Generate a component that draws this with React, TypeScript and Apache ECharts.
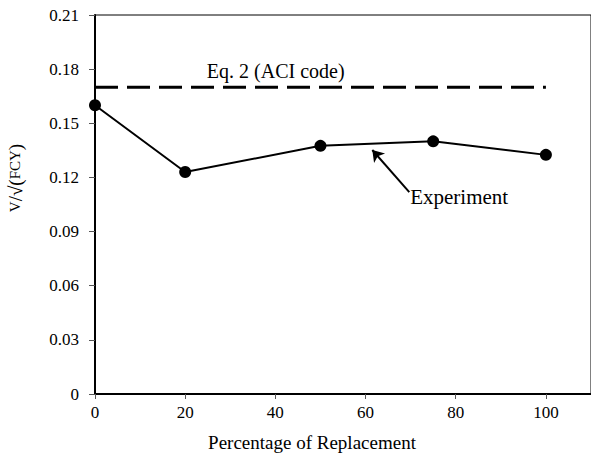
import React, { useEffect, useRef } from "react";
import * as echarts from "echarts";

const replacement = [0, 20, 50, 75, 100];
const experiment = [0.16, 0.123, 0.1375, 0.14, 0.1325];
const aciX = [0, 100];
const aciValue = 0.17;
const yTicks = [0, 0.03, 0.06, 0.09, 0.12, 0.15, 0.18, 0.21];
const xTicks = [0, 20, 40, 60, 80, 100];

const FONT = "Liberation Serif";

export default function App() {
  const ref = useRef<HTMLDivElement>(null);
  useEffect(() => {
    if (!ref.current) return;
    const chart = echarts.init(ref.current, undefined, { renderer: "svg" });
    const option: any = {
      animation: false,
      backgroundColor: "#fff",
      textStyle: { fontFamily: FONT, color: "#000" },
      grid: {
        left: 95,
        top: 15,
        bottom: 68,
        right: -4.5,
        show: true,
        borderColor: "#000",
        borderWidth: 1,
      },
      xAxis: {
        type: "value",
        min: 0,
        max: 110,
        interval: 20,
        splitLine: { show: false },
        axisLine: { lineStyle: { color: "#000", width: 2 } },
        axisTick: { show: true, inside: false, length: 5, lineStyle: { color: "#555", width: 1 } },
        axisLabel: {
          color: "#000",
          fontFamily: FONT,
          fontSize: 17,
          margin: 10,
          showMaxLabel: false,
          formatter: (v: number) => (xTicks.includes(v) ? String(v) : ""),
        },
      },
      yAxis: {
        type: "value",
        min: yTicks[0],
        max: yTicks[yTicks.length - 1],
        interval: 0.03,
        splitLine: { show: false },
        axisLine: { show: true, lineStyle: { color: "#000", width: 2 } },
        axisTick: { show: true, inside: false, length: 6, lineStyle: { color: "#555", width: 1 } },
        axisLabel: {
          color: "#000",
          fontFamily: FONT,
          fontSize: 17,
          margin: 16,
          formatter: (v: number) => (Math.abs(v) < 1e-9 ? "0" : v.toFixed(2)),
        },
      },
      series: [
        {
          type: "line",
          name: "Eq. 2 (ACI code)",
          data: aciX.map((x) => [x, aciValue]),
          symbol: "none",
          lineStyle: { color: "#000", width: 3, type: [23, 9] },
          z: 2,
        },
        {
          type: "line",
          name: "Experiment",
          data: replacement.map((x, i) => [x, experiment[i]]),
          symbol: "circle",
          symbolSize: 12,
          itemStyle: { color: "#000" },
          lineStyle: { color: "#000", width: 2 },
          z: 3,
          markLine: {
            silent: true,
            symbol: ["none", "arrow"],
            symbolSize: 11,
            label: { show: false },
            lineStyle: { color: "#000", width: 2, type: "solid" },
            data: [[{ coord: [69.7, 0.1119] }, { coord: [61.5, 0.1352] }]],
          },
        },
      ],
    };
    chart.setOption(option);

    const p1 = chart.convertToPixel({ gridIndex: 0 }, [24.8, 0.179]) as number[];
    const p2 = chart.convertToPixel({ gridIndex: 0 }, [69.9, 0.109]) as number[];
    chart.setOption({
      graphic: [
        {
          type: "text",
          x: p1[0],
          y: p1[1],
          style: {
            text: "Eq. 2 (ACI code)",
            fontFamily: FONT,
            fontSize: 20,
            fill: "#000",
            align: "left",
            verticalAlign: "middle",
          },
        },
        {
          type: "text",
          x: p2[0],
          y: p2[1],
          style: {
            text: "Experiment",
            fontFamily: FONT,
            fontSize: 21,
            fill: "#000",
            align: "left",
            verticalAlign: "middle",
          },
        },
        {
          type: "text",
          x: 312,
          y: 442,
          style: {
            text: "Percentage of Replacement",
            fontFamily: FONT,
            fontSize: 19,
            fill: "#000",
            align: "center",
            verticalAlign: "middle",
          },
        },
        {
          type: "text",
          x: 15,
          y: 178,
          rotation: Math.PI / 2,
          style: {
            text: "{s|V}/√({s|FCY})",
            fontFamily: FONT,
            fontSize: 19,
            fill: "#000",
            align: "center",
            verticalAlign: "middle",
            rich: {
              s: { fontSize: 15, fontFamily: FONT, fill: "#000" },
            },
          },
        },
      ],
    });

    return () => chart.dispose();
  }, []);
  return (
    <div
      ref={ref}
      style={{ position: "fixed", left: 0, top: 0, width: 591, height: 462 }}
    />
  );
}
